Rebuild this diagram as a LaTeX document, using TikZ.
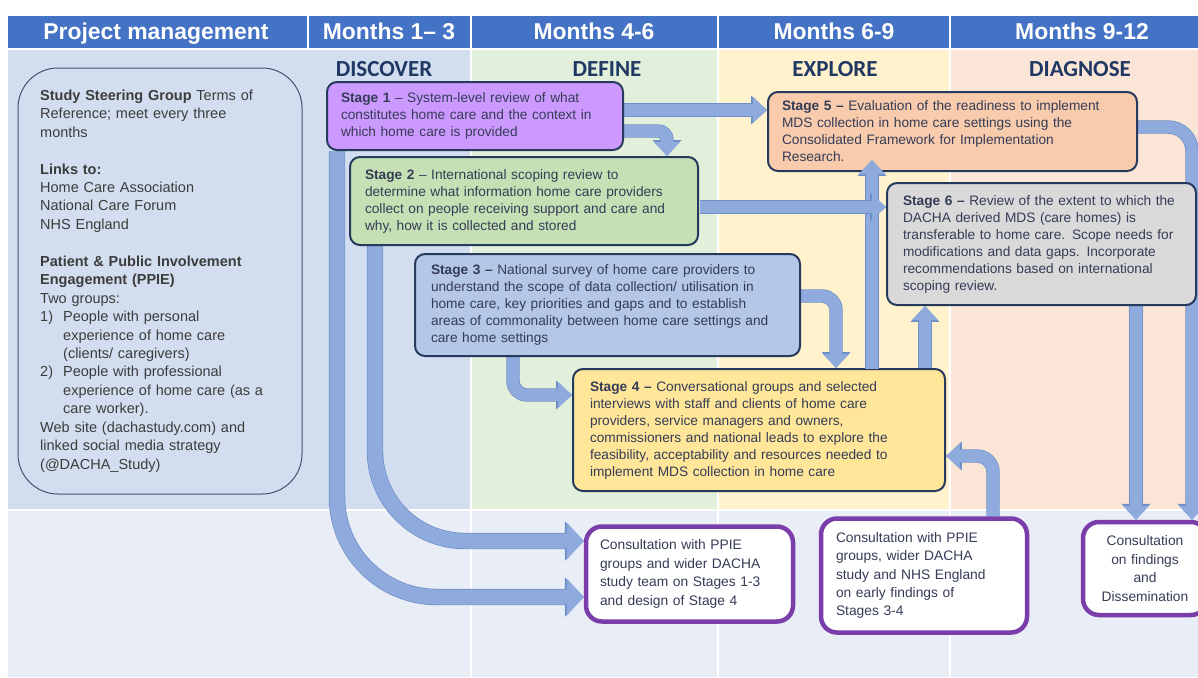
\documentclass[tikz,border=0pt]{standalone}
\usepackage{fontspec}
\setmainfont{Liberation Sans}
\newfontfamily\calibfont{Carlito}
\usetikzlibrary{arrows.meta}
\pgfdeclarelayer{bglayer}
\pgfdeclarelayer{arrlayer}
\pgfdeclarelayer{frontlayer}
\pgfsetlayers{bglayer,arrlayer,main,frontlayer}
\definecolor{hdr}{HTML}{4472C4}
\definecolor{bgblue}{HTML}{D2DEEF}
\definecolor{bggreen}{HTML}{E2EFDA}
\definecolor{bgyellow}{HTML}{FFF2CC}
\definecolor{bgpeach}{HTML}{FBE5D6}
\definecolor{bglow}{HTML}{E9EDF5}
\definecolor{phase}{HTML}{1F3864}
\definecolor{sborder}{HTML}{263A5E}
\definecolor{stxt}{HTML}{353C56}
\definecolor{ptxt}{HTML}{3C3C3C}
\definecolor{pborder}{HTML}{44546A}
\definecolor{sA}{HTML}{CC99FF}
\definecolor{sB}{HTML}{C5E0B4}
\definecolor{sC}{HTML}{B4C7E7}
\definecolor{sD}{HTML}{FFE699}
\definecolor{sE}{HTML}{F8CBAD}
\definecolor{sF}{HTML}{D9D9D9}
\definecolor{purp}{HTML}{7A3DAA}
\definecolor{arrfill}{HTML}{8FAADC}
\definecolor{arredge}{HTML}{6E8FC8}
\tikzset{
  hdrtxt/.style={text=white, font=\fontsize{22.9}{24}\selectfont\bfseries, anchor=base, inner sep=0pt},
  phasetxt/.style={text=phase, font=\calibfont\fontsize{23}{24}\selectfont\bfseries, anchor=base, inner sep=0pt},
  stagebox/.style={draw=sborder, line width=2pt, rounded corners=10pt, text=stxt, align=left,
    font=\fontsize{13.7}{17}\selectfont, inner ysep=0pt},
  consbox/.style={draw=purp, line width=4.5pt, rounded corners=16pt, fill=white, text=stxt,
    font=\fontsize{13.8}{18.4}\selectfont, inner ysep=0pt},
  blk/.style={draw=arrfill, line width=12pt, -{Triangle[width=26pt,length=14pt,line width=0pt]},
    preaction={draw=arredge, line width=13.4pt, -{Triangle[width=28.6pt,length=15.8pt,line width=0pt]}}},
  blkw/.style={draw=arrfill, line width=15pt, -{Triangle[width=37pt,length=17pt,line width=0pt]},
    preaction={draw=arredge, line width=16.4pt, -{Triangle[width=39.6pt,length=18.8pt,line width=0pt]}}},
}
\begin{document}
\begin{tikzpicture}[x=1pt,y=-1pt]
\useasboundingbox (0,0) rectangle (1198,677);
\clip (0,0) rectangle (1198,677);
% backgrounds
\begin{pgfonlayer}{bglayer}
\fill[white] (0,0) rectangle (1198,677);
\fill[bgblue] (8,49) rectangle (471,510);
\fill[bggreen] (471,49) rectangle (718,510);
\fill[bgyellow] (718,49) rectangle (950,510);
\fill[bgpeach] (950,49) rectangle (1198,510);
\fill[bglow] (8,510) rectangle (1198,677);
\fill[hdr] (8,16) rectangle (1198,49);
\draw[white, line width=1.5pt] (308,16) -- (308,49) (471,16) -- (471,677) (718,16) -- (718,677)
  (950,16) -- (950,677) (8,510) -- (1198,510) (8,49) -- (1198,49);
\end{pgfonlayer}
% header texts
\node[hdrtxt] (h0) at (156,40) {Project management};
\node[hdrtxt] (h1) at (389,40) {Months 1– 3};
\node[hdrtxt] (h2) at (594,40) {Months 4-6};
\node[hdrtxt] (h3) at (834,40) {Months 6-9};
\node[hdrtxt] (h4) at (1082,40) {Months 9-12};
% phase labels
\node[phasetxt] (p1) at (384,76) {DISCOVER};
\node[phasetxt] (p2) at (607,76) {DEFINE};
\node[phasetxt] (p3) at (835,76) {EXPLORE};
\node[phasetxt] (p4) at (1080,76) {DIAGNOSE};
% project management panel
\node[draw=pborder, line width=1pt, fill=bgblue, rounded corners=40pt, minimum width=284pt, minimum height=426pt] (pm) at (160,281) {};
\node[anchor=north west, inner sep=0pt, text width=255pt, align=left, text=ptxt,
  font=\fontsize{14.5}{18.45}\selectfont] (pmt) at (40,89.5) {%
\textbf{Study Steering Group} Terms of\\
Reference; meet every three\\
months\\[18.45pt]
\textbf{Links to:}\\
Home Care Association\\
National Care Forum\\
NHS England\\[18.45pt]
\textbf{Patient \& Public Involvement}\\
\textbf{Engagement (PPIE)}\\
Two groups:\\
\makebox[23pt][l]{1)}People with personal\\
\hspace*{23pt}experience of home care\\
\hspace*{23pt}(clients/ caregivers)\\
\makebox[23pt][l]{2)}People with professional\\
\hspace*{23pt}experience of home care (as a\\
\hspace*{23pt}care worker).\\
Web site (dachastudy.com) and\\
linked social media strategy\\
(@DACHA\_Study)};
% coordinates for connectors
\coordinate (kA) at (337,597);
\coordinate (kB) at (375,541);
\coordinate (bx) at (667,0);
\coordinate (dx) at (836,0);
\coordinate (eC) at (513,395);
\coordinate (fx) at (872,160);
\coordinate (gx) at (925,0);
\coordinate (hC) at (993,456);
\coordinate (ix) at (1136,0);
\coordinate (jx) at (1192,0);
% stage boxes
\node[stagebox, fill=sA, minimum width=296pt, minimum height=68pt, text width=268pt, inner xsep=14pt] (s1) at (475,116) {%
\textbf{Stage 1} – System-level review of what\\
constitutes home care and the context in\\
which home care is provided};
\node[stagebox, fill=sB, minimum width=348pt, minimum height=88pt, text width=318pt, inner xsep=15pt] (s2) at (524,201) {%
\textbf{Stage 2} – International scoping review to\\
determine what information home care providers\\
collect on people receiving support and care and\\
why, how it is collected and stored};
\node[stagebox, fill=sC, minimum width=385pt, minimum height=102pt, text width=353pt, inner xsep=16pt] (s3) at (607.5,305) {%
\textbf{Stage 3 –} National survey of home care providers to\\
understand the scope of data collection/ utilisation in\\
home care, key priorities and gaps and to establish\\
areas of commonality between home care settings and\\
care home settings};
\node[stagebox, fill=sD, minimum width=372pt, minimum height=122pt, text width=338pt, inner xsep=17pt] (s4) at (759,430) {%
\textbf{Stage 4 –} Conversational groups and selected\\
interviews with staff and clients of home care\\
providers, service managers and owners,\\
commissioners and national leads to explore the\\
feasibility, acceptability and resources needed to\\
implement MDS collection in home care};
\node[stagebox, fill=sE, minimum width=369pt, minimum height=79pt, text width=341pt, inner xsep=14pt] (s5) at (952.5,131.5) {%
\textbf{Stage 5 –} Evaluation of the readiness to implement\\
MDS collection in home care settings using the\\
Consolidated Framework for Implementation\\
Research.};
\node[stagebox, fill=sF, minimum width=309pt, minimum height=122pt, text width=277pt, inner xsep=16pt] (s6) at (1041.5,244) {%
\textbf{Stage 6 –} Review of the extent to which the\\
DACHA derived MDS (care homes) is\\
transferable to home care. Scope needs for\\
modifications and data gaps. Incorporate\\
recommendations based on international\\
scoping review.};
% consultation boxes
\node[consbox, align=left, minimum width=207pt, minimum height=95pt, text width=179pt, inner xsep=14pt] (cons1) at (689.5,574) {%
Consultation with PPIE\\
groups and wider DACHA\\
study team on Stages 1-3\\
and design of Stage 4};
\node[consbox, align=left, minimum width=206pt, minimum height=114pt, text width=176pt, inner xsep=15pt] (cons2) at (924,575.5) {%
Consultation with PPIE\\
groups, wider DACHA\\
study and NHS England\\
on early findings of\\
Stages 3-4};
\node[consbox, align=center, minimum width=124pt, minimum height=93pt, text width=110pt, inner xsep=7pt] (cons3) at (1145,568.5) {%
Consultation\\
on findings\\
and\\
Dissemination};
% connectors behind the boxes
\begin{pgfonlayer}{arrlayer}
\clip (0,0) rectangle (1198,677);
\draw[blkw, rounded corners=100pt] (kA |- s1.south) -- (kA) -- (kA -| cons1.west);
\draw[blkw, rounded corners=90pt] (kB |- s2.south) -- (kB) -- (kB -| cons1.west);
\coordinate (aA) at ([yshift=6pt]s1.east);
\draw[blk] (aA) -- (aA -| s5.west);
\coordinate (aB) at ([yshift=-15pt]s1.east);
\draw[blk, rounded corners=9pt] (aB) -- (aB -| bx) -- (bx |- s2.north);
\coordinate (aD) at ([yshift=9pt]s3.east);
\draw[blk, rounded corners=14pt] (aD) -- (aD -| dx) -- (dx |- s4.north);
\draw[blk, rounded corners=14pt] (eC |- s3.south) -- (eC) -- (eC -| s4.west);
\draw[blk] (gx |- s4.north) -- (gx |- s6.south);
\draw[blk, rounded corners=16pt] (hC |- cons2.north) -- (hC) -- (hC -| s4.east);
\draw[blk] (ix |- s6.south) -- (ix |- cons3.north);
\coordinate (aJ) at ([yshift=4.5pt]s5.east);
\draw[blk, rounded corners=24pt] (aJ) -- (aJ -| jx) -- (jx |- cons3.north);
\end{pgfonlayer}
% connectors in front
\begin{pgfonlayer}{frontlayer}
\draw[blk] ([yshift=-1pt]fx |- s4.north) -- (fx);
\coordinate (aC) at ([yshift=-6pt]s2.east);
\draw[blk] ([xshift=1pt]aC) -- (aC -| s6.west);
\end{pgfonlayer}
\end{tikzpicture}
\end{document}
